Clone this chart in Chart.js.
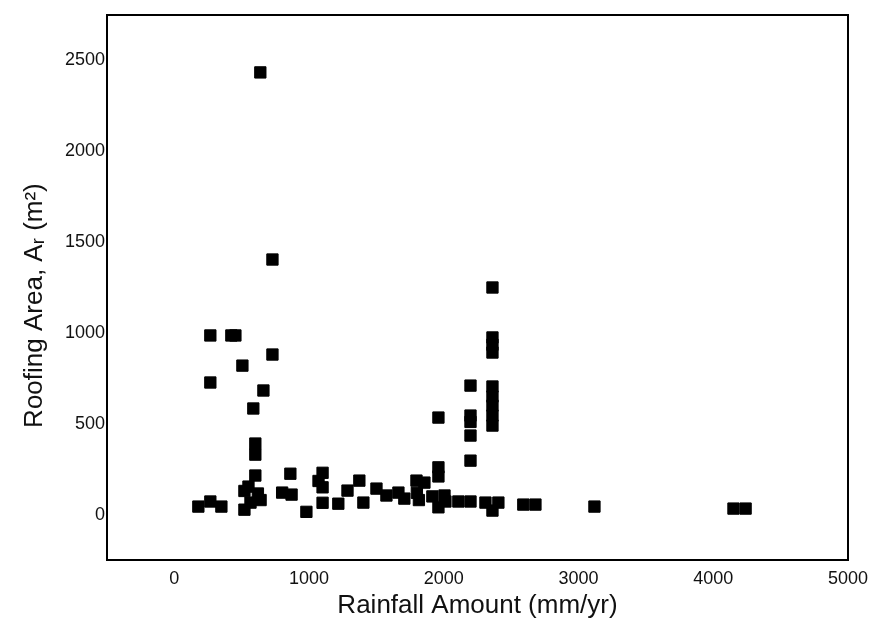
<!DOCTYPE html>
<html>
<head>
<meta charset="utf-8">
<script src="https://cdn.jsdelivr.net/npm/chart.js@4"></script>
<style>
html,body{margin:0;padding:0;background:#fff;}
#c{display:block;}
</style>
</head>
<body>
<canvas id="c" width="872" height="619"></canvas>
<script>
// Rainfall amount (mm/yr)
const rainfall = [
  178, 267, 349, 267, 423, 453, 728, 505, 267, 661, 586,
  601, 601, 601, 550, 620, 520, 565, 520, 640,
  861, 800, 870, 980, 1100, 1100, 1100, 1070,
  1217, 1285, 1373, 1403, 1500, 1574, 1663, 1707,
  1797, 1856, 1800, 1815, 1915, 2012, 1960, 1960, 1960,
  2198, 2005, 2108, 2198, 2309, 2405, 2361, 2590, 2680,
  2361, 2361, 2361, 2361, 2198, 2361, 2361, 2361, 2361, 2361,
  1960, 2198, 2198, 2198, 3118, 4150, 4240, 638, 728
];
// Roofing area (m2)
const roofArea = [
  44, 72, 44, 986, 986, 986, 881, 820, 727, 683, 584,
  391, 330, 215, 154, 116, 130, 66, 27, 80,
  225, 121, 110, 15, 230, 150, 65, 185,
  60, 132, 187, 66, 143, 105, 121, 88,
  187, 176, 120, 80, 100, 72, 260, 210, 40,
  297, 105, 72, 72, 66, 66, 22, 55, 55,
  1250, 975, 935, 892, 710, 705, 650, 600, 545, 490,
  534, 545, 510, 435, 44, 33, 33, 2434, 1404
];
const xTicks = [0, 1000, 2000, 3000, 4000, 5000];
const yTicks = [0, 500, 1000, 1500, 2000, 2500];
const xTitle = 'Rainfall Amount (mm/yr)';
const yTitle = 'Roofing Area, A\u1D63 (m\u00B2)     ';

const points = rainfall.map((x, i) => ({x: x, y: roofArea[i]}));

const boxPlugin = {
  id: 'box',
  afterDatasetsDraw(chart) {
    const {ctx, chartArea: a} = chart;
    ctx.save();
    ctx.strokeStyle = '#000';
    ctx.lineWidth = 2;
    ctx.strokeRect(a.left, a.top, a.right - a.left, a.bottom - a.top);
    ctx.restore();
  }
};

const FONT = 'Liberation Sans, Arial, sans-serif';

new Chart(document.getElementById('c'), {
  type: 'scatter',
  data: {
    datasets: [{
      data: points,
      pointStyle: 'rect',
      pointRadius: 8,
      pointHoverRadius: 8,
      backgroundColor: '#000',
      borderColor: '#000',
      borderWidth: 1
    }]
  },
  options: {
    responsive: false,
    animation: false,
    events: [],
    layout: {padding: {left: 0, top: 15, right: 24, bottom: 0}},
    plugins: {legend: {display: false}, tooltip: {enabled: false}},
    scales: {
      x: {
        type: 'linear',
        min: -500, max: 5000,
        grid: {display: false, drawTicks: false, tickLength: 0},
        border: {display: false},
        afterBuildTicks: s => { s.ticks = xTicks.map(v => ({value: v})); },
        afterFit: s => { s.height = 59; s.paddingLeft = 0; s.paddingRight = 0; },
        ticks: {
          color: '#111', padding: 8,
          font: {family: FONT, size: 18},
          callback: v => String(v)
        },
        title: {
          display: true, text: xTitle, color: '#111',
          font: {family: FONT, size: 26, lineHeight: 1.0},
          padding: {top: 0, bottom: 0}
        }
      },
      y: {
        type: 'linear',
        min: -250, max: 2750,
        grid: {display: false, drawTicks: false, tickLength: 0},
        border: {display: false},
        afterBuildTicks: s => { s.ticks = yTicks.map(v => ({value: v})); },
        afterFit: s => { s.width = 107; s.paddingTop = 0; s.paddingBottom = 0; },
        ticks: {
          color: '#111', padding: 2,
          font: {family: FONT, size: 18},
          callback: v => String(v)
        },
        title: {
          display: true, text: yTitle, color: '#111',
          font: {family: FONT, size: 26, lineHeight: 1.2},
          padding: {top: 19, bottom: 0}
        }
      }
    }
  },
  plugins: [boxPlugin]
});
</script>
</body>
</html>
